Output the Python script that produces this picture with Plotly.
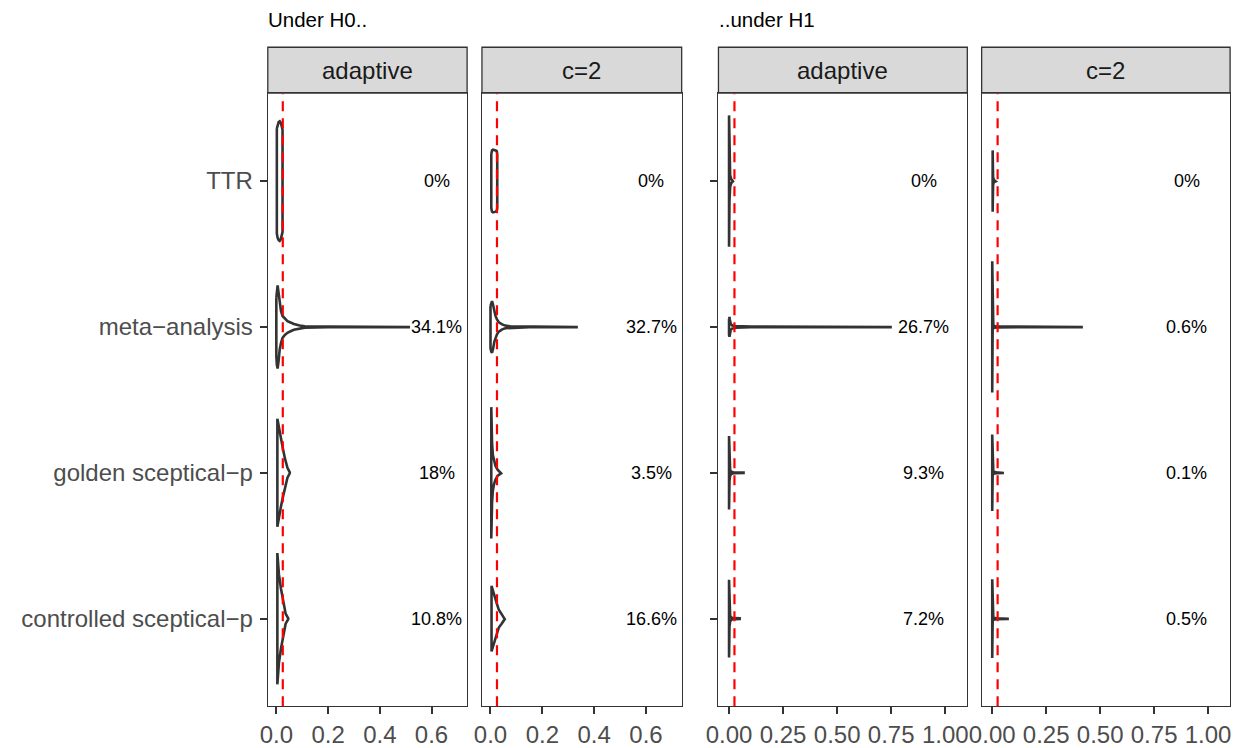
import plotly.graph_objects as go

# ---------------------------------------------------------------- data
methods = ["TTR", "meta\u2212analysis", "golden sceptical\u2212p", "controlled sceptical\u2212p"]
strip_labels = ["adaptive", "c=2", "adaptive", "c=2"]
group_titles = ["Under H0..", "..under H1"]
alpha_level = 0.025

# share of estimates above the significance level, per method (TTR, meta, golden, controlled)
pct_h0_adaptive = [0, 34.1, 18, 10.8]
pct_h0_c2 = [0, 32.7, 3.5, 16.6]
pct_h1_adaptive = [0, 26.7, 9.3, 7.2]
pct_h1_c2 = [0, 0.6, 0.1, 0.5]

# x tick values / labels for the two groups
ticks_h0 = [0.0, 0.2, 0.4, 0.6]
ticklabels_h0 = ["0.0", "0.2", "0.4", "0.6"]
ticks_h1 = [0.0, 0.25, 0.5, 0.75, 1.0]
ticklabels_h1 = ["0.00", "0.25", "0.50", "0.75", "1.00"]

# Violin outlines: evaluation points of the density (x) and the scaled
# half-width of the violin at each point (in category units).
# Order inside each list: TTR, meta-analysis, golden, controlled.
h0_adaptive_x = [
    [0.002, 0.005, 0.009, 0.013, 0.017, 0.021, 0.024],
    [0.0, 0.002, 0.005, 0.009, 0.013, 0.018, 0.024, 0.033, 0.043, 0.055, 0.068, 0.09, 0.11, 0.2, 0.517],
    [0.004, 0.010, 0.017, 0.025, 0.033, 0.043, 0.052],
    [0.004, 0.007, 0.010, 0.018, 0.027, 0.036, 0.046],
]
h0_adaptive_w = [
    [0.36, 0.39, 0.405, 0.41, 0.40, 0.375, 0.35],
    [0.20, 0.26, 0.285, 0.23, 0.155, 0.11, 0.075, 0.055, 0.04, 0.03, 0.02, 0.01, 0.005, 0.002, 0.0015],
    [0.37, 0.305, 0.24, 0.17, 0.10, 0.034, 0.003],
    [0.45, 0.375, 0.305, 0.205, 0.115, 0.034, 0.003],
]
h0_c2_x = [
    [0.003, 0.006, 0.010, 0.015, 0.020, 0.024, 0.026],
    [0.0, 0.003, 0.006, 0.010, 0.015, 0.019, 0.025, 0.032, 0.045, 0.057, 0.076, 0.15, 0.337],
    [0.003, 0.004, 0.006, 0.009, 0.014, 0.019, 0.028, 0.041],
    [0.004, 0.008, 0.016, 0.026, 0.032, 0.043, 0.055],
]
h0_c2_w = [
    [0.185, 0.21, 0.215, 0.215, 0.21, 0.205, 0.185],
    [0.145, 0.17, 0.177, 0.15, 0.10, 0.077, 0.051, 0.032, 0.017, 0.009, 0.0035, 0.002, 0.0015],
    [0.45, 0.34, 0.205, 0.123, 0.075, 0.048, 0.02, 0.003],
    [0.225, 0.198, 0.15, 0.095, 0.061, 0.034, 0.003],
]
h1_adaptive_x = [
    [0.0, 0.002, 0.005, 0.010, 0.018],
    [0.0, 0.002, 0.004, 0.008, 0.015, 0.03, 0.1, 0.753],
    [0.0, 0.002, 0.005, 0.010, 0.020, 0.067],
    [0.0, 0.002, 0.005, 0.010, 0.020, 0.049],
]
h1_adaptive_w = [
    [0.45, 0.136, 0.041, 0.014, 0.002],
    [0.055, 0.068, 0.048, 0.02, 0.01, 0.0055, 0.002, 0.0015],
    [0.252, 0.055, 0.02, 0.008, 0.0035, 0.002],
    [0.266, 0.055, 0.02, 0.008, 0.0035, 0.002],
]
h1_c2_x = [
    [0.002, 0.004, 0.008, 0.016],
    [0.0, 0.002, 0.005, 0.020, 0.42],
    [0.0, 0.002, 0.005, 0.020, 0.054],
    [0.0, 0.002, 0.005, 0.020, 0.077],
]
h1_c2_w = [
    [0.21, 0.027, 0.007, 0.002],
    [0.45, 0.02, 0.007, 0.003, 0.0015],
    [0.262, 0.02, 0.007, 0.003, 0.0015],
    [0.27, 0.02, 0.007, 0.003, 0.0015],
]

# ---------------------------------------------------------------- layout helpers
W, H = 1241, 748
FONT = "Liberation Sans, Arial, sans-serif"
INK = "#333333"


def px_x(p):
    return p / W


def px_y(p):
    return (H - p) / H


panel_px = [(257.7, 459.3), (474.3, 676.3), (713.5, 965.2), (979.7, 1231.0)]
plot_top, plot_bottom = 94.0, 710.0
strip_top, strip_bottom = 47.5, 93.5

panels = [
    dict(xs=h0_adaptive_x, ws=h0_adaptive_w, pct=pct_h0_adaptive, group=0),
    dict(xs=h0_c2_x, ws=h0_c2_w, pct=pct_h0_c2, group=0),
    dict(xs=h1_adaptive_x, ws=h1_adaptive_w, pct=pct_h1_adaptive, group=1),
    dict(xs=h1_c2_x, ws=h1_c2_w, pct=pct_h1_c2, group=1),
]
x_ranges = [[-0.033, 0.7375], [-0.049, 1.102]]
label_x = [0.62, 0.9]
tick_sets = [(ticks_h0, ticklabels_h0), (ticks_h1, ticklabels_h1)]

fig = go.Figure()
shapes, annotations = [], []

for i, p in enumerate(panels):
    k = i + 1
    xa = "x" if k == 1 else f"x{k}"
    ya = "y" if k == 1 else f"y{k}"
    g = p["group"]

    for j in range(len(methods)):
        xs, ws = p["xs"][j], p["ws"][j]
        poly_x = xs + xs[::-1] + [xs[0]]
        poly_y = [j - w for w in ws] + [j + w for w in ws[::-1]] + [j - ws[0]]
        fig.add_trace(go.Scatter(
            x=poly_x, y=poly_y, xaxis=xa, yaxis=ya, mode="lines",
            fill="toself", fillcolor="white",
            line=dict(color=INK, width=2.6), hoverinfo="skip", showlegend=False,
        ))
        annotations.append(dict(
            x=label_x[g], y=j, xref=xa, yref=ya, text=f"{p['pct'][j]:g}%",
            showarrow=False, xanchor="center", yanchor="middle",
            font=dict(family=FONT, size=18, color="black"),
        ))

    # significance level
    shapes.append(dict(
        type="line", xref=xa, yref=f"{ya} domain", x0=alpha_level, x1=alpha_level,
        y0=0, y1=1, line=dict(color="#FF0000", width=2.2, dash="10px,7px"), layer="above",
    ))
    # facet strip
    shapes.append(dict(
        type="rect", xref=f"{xa} domain", yref="paper", x0=0, x1=1,
        y0=px_y(strip_bottom), y1=px_y(strip_top),
        fillcolor="#D9D9D9", line=dict(color=INK, width=1.3), layer="below",
    ))
    annotations.append(dict(
        x=0.5, y=px_y((strip_top + strip_bottom) / 2), xref=f"{xa} domain", yref="paper",
        text=strip_labels[i], showarrow=False, xanchor="center", yanchor="middle",
        font=dict(family=FONT, size=24, color="#1A1A1A"),
    ))

    tv, tt = tick_sets[g]
    axis_common = dict(showline=True, mirror=True, linecolor=INK, linewidth=1.3,
                       showgrid=False, zeroline=False)
    fig.layout[f"xaxis{k if k > 1 else ''}"] = dict(
        domain=[px_x(panel_px[i][0]), px_x(panel_px[i][1])], range=x_ranges[g],
        anchor=ya, tickvals=tv, ticktext=tt, ticks="outside", ticklen=7,
        tickwidth=2, tickcolor=INK,
        tickfont=dict(family=FONT, size=24, color="#4D4D4D"), **axis_common,
    )
    show_y = i in (0, 2)
    fig.layout[f"yaxis{k if k > 1 else ''}"] = dict(
        domain=[px_y(plot_bottom), px_y(plot_top)], range=[3.6, -0.6],
        anchor=xa, tickvals=list(range(len(methods))), ticktext=methods,
        showticklabels=(i == 0), ticks="outside" if show_y else "",
        ticklen=7, tickwidth=2, tickcolor=INK, ticklabelstandoff=2,
        tickfont=dict(family=FONT, size=24, color="#4D4D4D"), **axis_common,
    )

for g, left in enumerate([panel_px[0][0], panel_px[2][0]]):
    annotations.append(dict(
        x=px_x(left - 1.5), y=px_y(20), xref="paper", yref="paper", text=group_titles[g],
        showarrow=False, xanchor="left", yanchor="middle",
        font=dict(family=FONT, size=20.5, color="black"),
    ))

fig.update_layout(
    width=W, height=H, margin=dict(l=0, r=0, t=0, b=0),
    paper_bgcolor="white", plot_bgcolor="white",
    shapes=shapes, annotations=annotations, showlegend=False,
)

fig.write_html("out.html")
